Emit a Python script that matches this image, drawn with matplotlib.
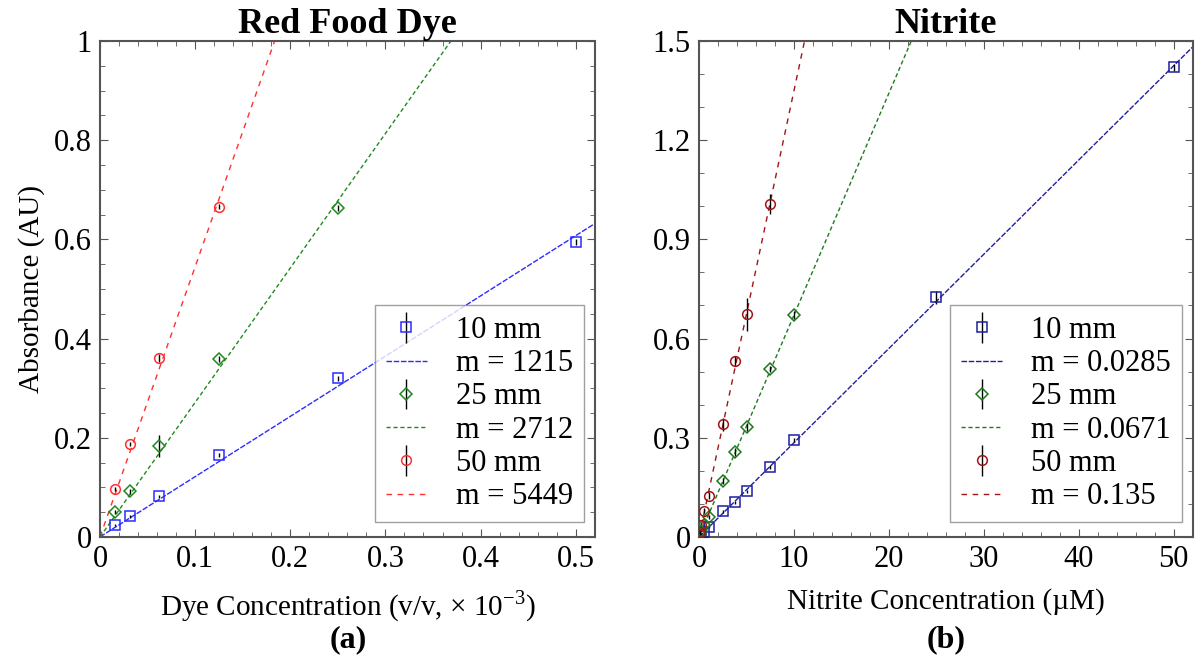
import matplotlib.pyplot as plt
import numpy as np
from matplotlib.ticker import MultipleLocator, FormatStrFormatter

plt.rcParams['font.family'] = ['Liberation Serif', 'DejaVu Serif']
plt.rcParams['mathtext.fontset'] = 'custom'
plt.rcParams['mathtext.rm'] = 'Liberation Serif'

# Red food dye (x in v/v x 1e-3)
dye_x = [0.015625, 0.03125, 0.0625, 0.125, 0.25, 0.5]
dye_10 = [0.024, 0.042, 0.082, 0.165, 0.320, 0.595]
dye_10_err = [0.002, 0.003, 0.003, 0.004, 0.005, 0.006]
dye_25_x = [0.015625, 0.03125, 0.0625, 0.125, 0.25]
dye_25 = [0.050, 0.092, 0.183, 0.358, 0.664]
dye_25_err = [0.004, 0.005, 0.022, 0.006, 0.006]
dye_50_x = [0.015625, 0.03125, 0.0625, 0.125]
dye_50 = [0.097, 0.187, 0.360, 0.666]
dye_50_err = [0.004, 0.004, 0.008, 0.005]
dye_slopes = [1215, 2712, 5449]

# Nitrite (uM)
nit_10_x = [0.1, 0.25, 0.5, 1, 2.5, 3.75, 5, 7.5, 10, 25, 50]
nit_10 = [0.003, 0.008, 0.015, 0.030, 0.077, 0.105, 0.138, 0.211, 0.293, 0.725, 1.420]
nit_10_err = [0.003, 0.003, 0.003, 0.004, 0.005, 0.005, 0.005, 0.006, 0.006, 0.020, 0.010]
nit_25_x = [0.1, 0.25, 0.5, 1, 2.5, 3.75, 5, 7.5, 10]
nit_25 = [0.008, 0.018, 0.035, 0.060, 0.169, 0.257, 0.332, 0.508, 0.671]
nit_25_err = [0.004, 0.004, 0.005, 0.006, 0.010, 0.012, 0.012, 0.010, 0.012]
nit_50_x = [0.1, 0.25, 0.5, 1, 2.5, 3.75, 5, 7.5]
nit_50 = [0.015, 0.035, 0.079, 0.125, 0.341, 0.532, 0.674, 1.006]
nit_50_err = [0.005, 0.006, 0.008, 0.010, 0.020, 0.015, 0.050, 0.030]
nit_slopes = [0.0285, 0.0671, 0.135]

labels = ['10 mm', '25 mm', '50 mm']
dye_colors = ['#2b2bff', '#1f8a1f', '#ff3030']
nit_colors = ['#1f1fa0', '#1f7a1f', '#a01515']
markers = ['s', 'D', 'o']
dash_styles = [(0, (4, 1.2)), (0, (3, 2)), (0, (4, 4))]

fig = plt.figure(figsize=(11.95, 6.62), dpi=100)
ax1 = fig.add_axes([0.0837, 0.189, 0.414, 0.749])
ax2 = fig.add_axes([0.585, 0.189, 0.413, 0.749])


def panel(ax, sets, slopes, colors, xmax, unit_scale, fmt):
    handles = []
    xs = np.array([0, xmax])
    for (x, y, e), m, c, mk, ds in zip(sets, slopes, colors, markers, dash_styles):
        eb = ax.errorbar(x, y, yerr=e, fmt=mk, mfc='none', mec=c, ms=7 if mk != 'D' else 6.5,
                         mew=1.1, ecolor='black', elinewidth=1.0, capsize=0, zorder=3)
        ln, = ax.plot(xs, m * unit_scale * xs, color=c, lw=1.0, linestyle=ds, zorder=2)
        handles += [eb, ln]
    leg_labels = []
    for lab, m in zip(labels, slopes):
        leg_labels += [lab, 'm = ' + fmt(m)]
    leg = ax.legend(handles, leg_labels, loc='lower right', fontsize=22, frameon=True,
                    fancybox=False, edgecolor='#888888', handlelength=1.35,
                    borderpad=0.35, labelspacing=0.14, handletextpad=0.95,
                    borderaxespad=0, bbox_to_anchor=(0.978, 0.03))
    leg.get_frame().set_linewidth(1.0)
    for sp in ax.spines.values():
        sp.set_color('#555555')
        sp.set_linewidth(1.5)
    ax.tick_params(which='both', direction='in', top=True, right=True, labelsize=22,
                   color='#555555')
    ax.tick_params(which='major', length=6, pad=6)
    ax.tick_params(which='minor', length=3.5)


panel(ax1, [(dye_x, dye_10, dye_10_err), (dye_25_x, dye_25, dye_25_err),
            (dye_50_x, dye_50, dye_50_err)],
      dye_slopes, dye_colors, 0.52, 1e-3, lambda m: str(m))
ax1.set_xlim(0, 0.52)
ax1.set_ylim(0, 1)
ax1.xaxis.set_major_locator(MultipleLocator(0.1))
ax1.xaxis.set_minor_locator(MultipleLocator(0.02))
ax1.yaxis.set_major_locator(MultipleLocator(0.2))
ax1.yaxis.set_minor_locator(MultipleLocator(0.05))
ax1.xaxis.set_major_formatter(FormatStrFormatter('%g'))
ax1.yaxis.set_major_formatter(FormatStrFormatter('%g'))
ax1.set_title('Red Food Dye', fontsize=26, fontweight='bold', pad=3)
ax1.set_ylabel('Absorbance (AU)', fontsize=21, labelpad=6)
ax1.set_xlabel('Dye Concentration (v/v, × 10$^{-3}$)', fontsize=21, labelpad=10)

panel(ax2, [(nit_10_x, nit_10, nit_10_err), (nit_25_x, nit_25, nit_25_err),
            (nit_50_x, nit_50, nit_50_err)],
      nit_slopes, nit_colors, 52, 1.0, lambda m: f'{m:g}')
ax2.set_xlim(0, 52)
ax2.set_ylim(0, 1.5)
ax2.xaxis.set_major_locator(MultipleLocator(10))
ax2.xaxis.set_minor_locator(MultipleLocator(2))
ax2.yaxis.set_major_locator(MultipleLocator(0.3))
ax2.yaxis.set_minor_locator(MultipleLocator(0.1))
ax2.yaxis.set_major_formatter(FormatStrFormatter('%g'))
ax2.set_title('Nitrite', fontsize=26, fontweight='bold', pad=3)
ax2.set_xlabel('Nitrite Concentration (µM)', fontsize=21, labelpad=10)

fig.text(0.2915, 0.012, '(a)', ha='center', va='bottom', fontsize=23, fontweight='bold')
fig.text(0.7915, 0.012, '(b)', ha='center', va='bottom', fontsize=23, fontweight='bold')

fig.savefig('out.png', dpi=100)
